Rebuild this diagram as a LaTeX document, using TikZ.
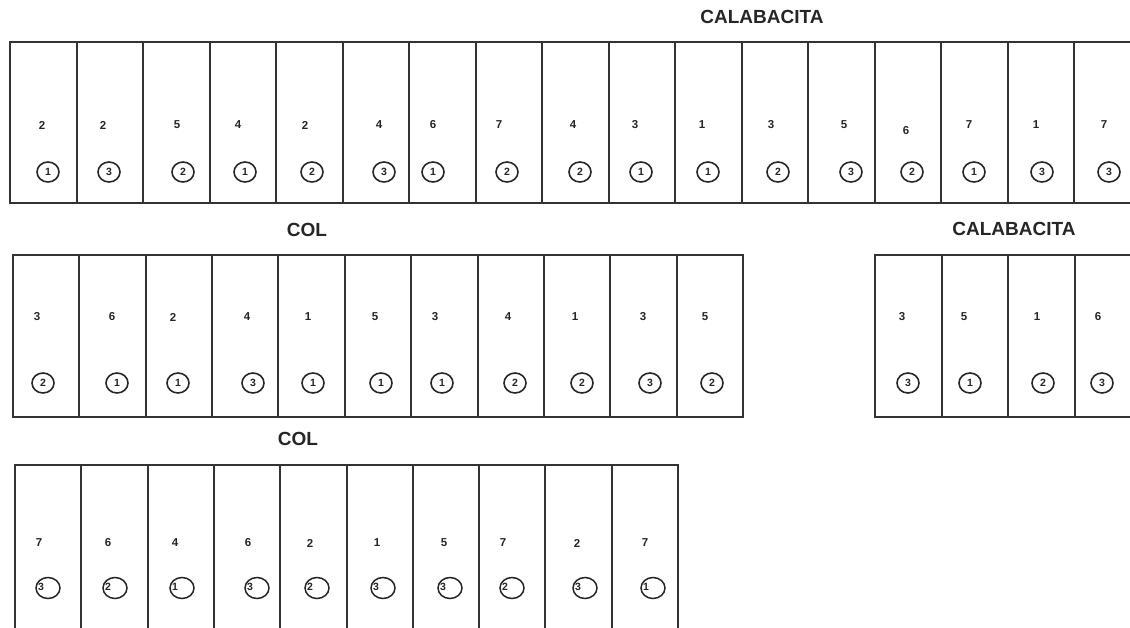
\documentclass[tikz,border=0pt]{standalone}
\usepackage{fontspec}
\setmainfont{Liberation Sans}
\usetikzlibrary{shapes.geometric}
\begin{document}
\begin{tikzpicture}[x=1pt,y=-1pt,
  cell/.style={draw=black!80, line width=2pt, inner sep=0pt, outer sep=0pt, anchor=north west},
  num/.style={font=\bfseries\fontsize{11.5}{12}\selectfont, text=black!85, inner sep=0pt},
  circ/.style={draw=black!85, ellipse, line width=1.6pt, minimum width=22pt, minimum height=20pt, inner sep=0pt, font=\bfseries\fontsize{10.5}{11}\selectfont, text=black!85},
  circb/.style={draw=black!85, ellipse, line width=1.5pt, minimum width=24pt, minimum height=21pt, inner sep=0pt},
  dig/.style={font=\bfseries\fontsize{10.5}{11}\selectfont, text=black!85, inner sep=0pt},
  title/.style={font=\bfseries\fontsize{19}{22}\selectfont, text=black!85, inner sep=0pt}]
\useasboundingbox (0,0) rectangle (1130,627);
\clip (0,0) rectangle (1130,627);
\fill[white] (0,0) rectangle (1130,627);

% titles
\node[title] (t1) at (762,17) {CALABACITA};
\node[title] (t2) at (307,230) {COL};
\node[title] (t3) at (1014,229) {CALABACITA};
\node[title] (t4) at (298,439) {COL};

% row 1
\foreach \n/\nx/\ny/\c/\cx [count=\k] in {2/42/125/1/48, 2/103/125/3/109, 5/177/125/2/183, 4/238/125/1/245, 2/305/125/2/312, 4/379/125/3/384, 6/433/125/1/433, 7/499/125/2/507, 4/573/125/2/580, 3/635/125/1/641, 1/702/125/1/708, 3/771/125/2/778, 5/844/125/3/851, 6/906/131/2/912, 7/969/125/1/974, 1/1036/125/3/1042, 7/1104/125/3/1109}{
  \pgfmathsetmacro\xl{round(10+66.5*(\k-1))}
  \pgfmathsetmacro\xr{round(10+66.5*\k)}
  \node[cell, minimum width={(\xr-\xl)*1pt}, minimum height=161pt] (a\k) at (\xl,42) {};
  \node[num] (an\k) at (\nx,\ny) {\n};
  \node[circ] (ac\k) at (\cx,172) {\c};
}

% row 2 left
\foreach \n/\nx/\c/\cx [count=\k] in {3/37/2/43, 6/112/1/117, 2/173/1/178, 4/247/3/253, 1/308/1/313, 5/375/1/381, 3/435/1/442, 4/508/2/515, 1/575/2/582, 3/643/3/650, 5/705/2/712}{
  \pgfmathsetmacro\xl{round(13+66.36*(\k-1))}
  \pgfmathsetmacro\xr{round(13+66.36*\k)}
  \node[cell, minimum width={(\xr-\xl)*1pt}, minimum height=162pt] (b\k) at (\xl,255) {};
  \node[num] (bn\k) at (\nx,317) {\n};
  \node[circ] (bc\k) at (\cx,383) {\c};
}

% row 2 right
\foreach \n/\nx/\c/\cx [count=\k] in {3/902/3/908, 5/964/1/970, 1/1037/2/1043, 6/1098/3/1102}{
  \pgfmathsetmacro\xl{round(875+66.5*(\k-1))}
  \pgfmathsetmacro\xr{round(875+66.5*\k)}
  \node[cell, minimum width={(\xr-\xl)*1pt}, minimum height=162pt] (c\k) at (\xl,255) {};
  \node[num] (cn\k) at (\nx,317) {\n};
  \node[circ] (cc\k) at (\cx,383) {\c};
}

% row 3
\foreach \n/\nx/\c/\cx [count=\k] in {7/39/3/48, 6/108/2/115, 4/175/1/182, 6/248/3/257, 2/310/2/317, 1/377/3/383, 5/444/3/450, 7/503/2/512, 2/577/3/585, 7/645/1/653}{
  \pgfmathsetmacro\xl{round(15+66.3*(\k-1))}
  \pgfmathsetmacro\xr{round(15+66.3*\k)}
  \node[cell, minimum width={(\xr-\xl)*1pt}, minimum height=175pt] (d\k) at (\xl,465) {};
  \node[num] (dn\k) at (\nx,543) {\n};
  \node[circb] (dc\k) at (\cx,588) {};
  \node[dig] (dd\k) at ({\cx-7},587) {\c};
}
\end{tikzpicture}
\end{document}
